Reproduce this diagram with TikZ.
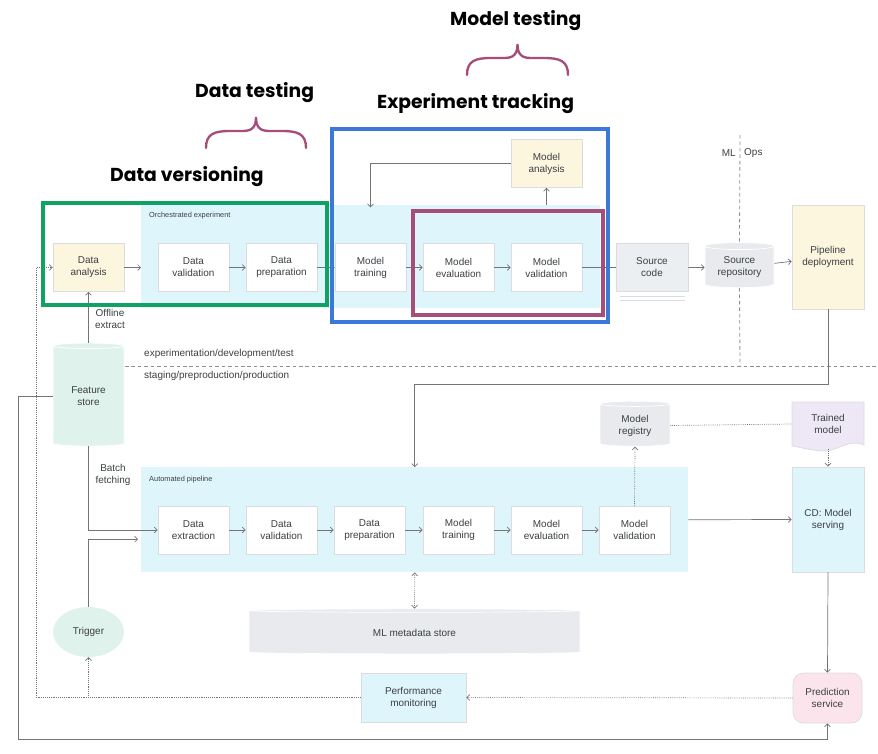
\documentclass[tikz,border=0pt]{standalone}
\usepackage{fontspec}
\setmainfont{Liberation Sans}
\newfontfamily\headfont{Poppins}
\usetikzlibrary{shapes.geometric,arrows.meta,calc}

\definecolor{ink}{HTML}{3C4043}
\definecolor{wire}{HTML}{747474}
\definecolor{boxline}{HTML}{DADCE0}
\definecolor{regionblue}{HTML}{DFF5FC}
\definecolor{notefill}{HTML}{FCF6DF}
\definecolor{codefill}{HTML}{ECEFF1}
\definecolor{dbfill}{HTML}{E8EAED}
\definecolor{featfill}{HTML}{E0F2EC}
\definecolor{docfill}{HTML}{EDE7F6}
\definecolor{pinkfill}{HTML}{FCE4EC}
\definecolor{versiongreen}{HTML}{12A164}
\definecolor{trackblue}{HTML}{3C78D8}
\definecolor{testpurple}{HTML}{A64D79}

\newcommand{\px}{0.03cm}
\newcommand{\dfont}{\fontsize{8.5}{10.2}\selectfont}
\newcommand{\sfont}{\fontsize{6.3}{7.5}\selectfont}
\newcommand{\hfont}{\headfont\bfseries\fontsize{16}{19}\selectfont}

% curly brace over a heading: left x, right x, tip y
\newcommand{\testbrace}[3]{%
  \pgfmathsetmacro{\bmid}{(#1+#2)/2}
  \draw[brace] (#1,#3+31) .. controls (#1,#3+17) and (#1+8,#3+14) .. (#1+24,#3+14)
    -- (\bmid-13,#3+14) .. controls (\bmid-3,#3+14) and (\bmid,#3+9) .. (\bmid,#3)
    .. controls (\bmid,#3+9) and (\bmid+3,#3+14) .. (\bmid+13,#3+14)
    -- (#2-24,#3+14) .. controls (#2-8,#3+14) and (#2,#3+17) .. (#2,#3+31);}

\begin{document}
\begin{tikzpicture}[x=\px, y=-\px,
    box/.style={draw=boxline, fill=white, line width=0.6pt, minimum width=71*\px,
      minimum height=48*\px, align=center, font=\dfont, text=ink, inner sep=1pt},
    db/.style={cylinder, shape border rotate=90, draw=white, line width=0.6pt,
      align=center, font=\dfont, text=ink, inner sep=1pt},
    region/.style={fill=regionblue, anchor=north west, inner sep=0pt},
    tag/.style={font=\sfont, text=ink, anchor=west, inner sep=0pt},
    lbl/.style={font=\dfont, text=ink, align=center, inner sep=0pt},
    head/.style={font=\hfont, anchor=west, inner sep=0pt},
    frame/.style={line width=2.6pt},
    conn/.style={draw=wire, line width=0.6pt},
    arr/.style={conn, -{Straight Barb[length=2.5pt,width=5pt]}},
    dotarr/.style={arr, densely dotted},
    dotline/.style={conn, densely dotted},
    split/.style={draw=wire!80, line width=0.7pt, dash pattern=on 3pt off 2.5pt},
    brace/.style={draw=testpurple, line width=2pt, line cap=round}]

  \useasboundingbox (0,0) rectangle (878,753);

  % Regions
  \node[region, minimum width=459*\px, minimum height=103*\px] (orch) at (141,205) {};
  \node[tag] (orchlbl) at (149,216) {Orchestrated experiment};
  \node[region, minimum width=547*\px, minimum height=105*\px] (auto) at (141,467) {};
  \node[tag] (autolbl) at (149,480) {Automated pipeline};

  % Experiment row
  \node[box, fill=notefill] (da) at (88.5,267.5) {Data\\analysis};
  \node[box] (dv1) at (193.5,267.5) {Data\\validation};
  \node[box] (dp1) at (281.5,267.5) {Data\\preparation};
  \node[box] (mt1) at (370.5,267.5) {Model\\training};
  \node[box] (me1) at (458.5,267.5) {Model\\evaluation};
  \node[box] (mv1) at (546.5,267.5) {Model\\validation};
  \node[box, fill=notefill] (ma) at (546.5,163.5) {Model\\analysis};
  \node[box, fill=codefill, minimum width=72*\px] (sc) at (652,267.5) {Source\\code};
  \node[db, fill=dbfill, minimum width=69*\px, minimum height=45*\px, aspect=0.15] (sr) at (739.5,267.5) {Source\\repository};
  \node[box, fill=notefill, minimum width=72*\px, minimum height=104*\px] (pd) at (828,257) {Pipeline\\deployment};

  % Production row
  \node[box] (de) at (193.5,530) {Data\\extraction};
  \node[box] (dv2) at (281.5,530) {Data\\validation};
  \node[box] (dp2) at (369.5,530) {Data\\preparation};
  \node[box] (mt2) at (458.5,530) {Model\\training};
  \node[box] (me2) at (546.5,530) {Model\\evaluation};
  \node[box] (mv2) at (634.5,530) {Model\\validation};
  \node[db, fill=dbfill, minimum width=70*\px, minimum height=45*\px, aspect=0.15] (mr) at (635,425.5) {Model\\registry};
  \filldraw[draw=boxline, fill=docfill, line width=0.6pt] (792,402) -- (864,402) -- (864,445)
    .. controls (848,438) and (838,452) .. (822,451) .. controls (808,450) and (800,447) .. (792,446) -- cycle;
  \node[lbl, minimum width=72*\px, minimum height=44*\px] (tm) at (828,424) {Trained\\model};
  \node[box, fill=regionblue, minimum width=72*\px, minimum height=105*\px] (cd) at (828,519.5) {CD: Model\\serving};

  % Stores and services
  \node[db, fill=featfill, minimum width=71*\px, minimum height=103*\px, aspect=0.15] (fs) at (88.5,396.5) {Feature\\store};
  \node[ellipse, fill=featfill, minimum width=71*\px, minimum height=50*\px, font=\dfont, text=ink] (trig) at (88.5,632) {Trigger};
  \node[db, fill=dbfill, minimum width=331*\px, minimum height=45*\px, aspect=0.04] (mds) at (414.5,632.5) {ML metadata store};
  \node[box, fill=regionblue, minimum width=105*\px, minimum height=49*\px] (pm) at (413.5,697.5) {Performance\\monitoring};
  \node[box, fill=pinkfill, rounded corners=9pt, minimum width=69*\px, minimum height=50*\px] (ps) at (827.5,698) {Prediction\\service};

  % Text labels
  \node[lbl] (offl) at (110,319) {Offline\\extract};
  \node[lbl] (batch) at (113,474.5) {Batch\\fetching};
  \node[lbl, anchor=west] (envtop) at (144,354) {experimentation/development/test};
  \node[lbl, anchor=west] (envbot) at (144,376) {staging/preproduction/production};
  \node[lbl, anchor=east] (mllbl) at (736,153) {ML};
  \node[lbl, anchor=west] (opslbl) at (744,153) {Ops};

  % Split lines
  \draw[split] (125,366) -- (878,366);
  \draw[split] (740,135) -- (sr.north);
  \draw[split] (sr.south) -- (740,366);

  % Edges, experiment
  \draw[arr] (da.east) -- (da.east -| orch.west);
  \draw[arr] (dv1) -- (dp1);
  \draw[arr] (dp1) -- (mt1);
  \draw[arr] (mt1) -- (me1);
  \draw[arr] (me1) -- (mv1);
  \draw[conn] (mv1) -- (sc);
  \draw[arr] (sc) -- (sr);
  \draw[arr] (sr) -- (pd);
  \draw[arr] (ma.south |- orch.north) -- (ma.south);
  \draw[arr] (ma.west) -| ([yshift=-2]mt1.north |- orch.north);
  \draw[conn, draw=boxline] ([shift={(4,4)}]sc.south west) -- ([shift={(-3,4)}]sc.south east);
  \draw[conn, draw=boxline] ([shift={(4,8)}]sc.south west) -- ([shift={(-3,8)}]sc.south east);
  \draw[arr] (fs.north) -- (da.south);

  % Edges, production
  \draw[arr] (fs.south) |- (de.west);
  \draw[arr] (trig.north) |- ([shift={(-3,19.5)}]auto.west);
  \draw[arr] (pd.south) -- ++(0,75) -| (auto.north);
  \draw[arr] (de) -- (dv2);
  \draw[arr] (dv2) -- (dp2);
  \draw[arr] (dp2) -- (mt2);
  \draw[arr] (mt2) -- (me2);
  \draw[arr] (me2) -- (mv2);
  \draw[arr] (auto.east) -- (cd.west);
  \draw[dotarr] (mv2.north) -- (mr.south);
  \draw[dotline] (mr.east) -- (tm.west);
  \draw[dotarr] (828,449) -- (cd.north);
  \draw[arr] (cd.south) -- (ps.north);
  \draw[dotline, {Straight Barb[length=2.5pt,width=5pt]}-{Straight Barb[length=2.5pt,width=5pt]}] (auto.south) -- (mds.north);

  % Monitoring loop
  \coordinate (loopL) at (36,697.5);
  \coordinate (lowL) at (18,739);
  \draw[dotarr] (ps.west) -- (pm.east);
  \draw[dotarr] (pm.west) -- (loopL) |- (da.west);
  \draw[dotarr] (trig.south |- pm.west) -- (trig.south);
  \draw[arr] (fs.west) -| (lowL) -| (ps.south);

  % Highlight frames
  \draw[frame, draw=versiongreen] (43,203) rectangle (327,305);
  \draw[frame, draw=trackblue] (332,129) rectangle (608,322);
  \draw[frame, draw=testpurple] (413,211) rectangle (603,315);

  % Headings
  \node[head] (hversion) at (110,177) {Data versioning};
  \node[head] (hdtest) at (195,93) {Data testing};
  \node[head] (htrack) at (377,104) {Experiment tracking};
  \node[head] (hmtest) at (450,21) {Model testing};
  \testbrace{206}{306}{117}
  \testbrace{467}{568}{44}
\end{tikzpicture}
\end{document}
